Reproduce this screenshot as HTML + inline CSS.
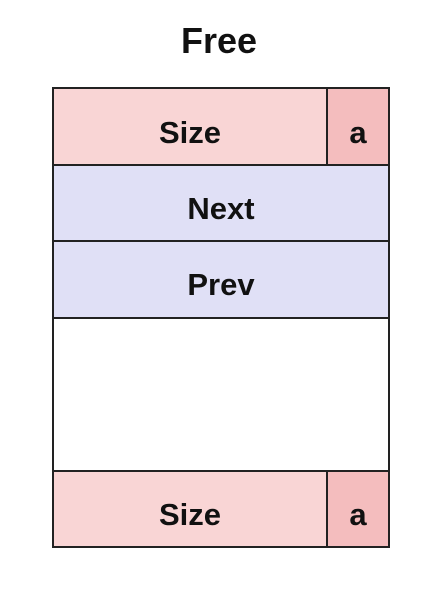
<!DOCTYPE html>
<html><head><meta charset="utf-8"><style>
html,body{margin:0;padding:0;background:#fff;}
svg{display:block;}
text{font-family:"Liberation Sans",Arial,sans-serif;font-weight:bold;fill:#111;}
</style></head><body>
<svg width="434" height="595" viewBox="0 0 434 595" xmlns="http://www.w3.org/2000/svg">
<text x="219" y="53" font-size="36" text-anchor="middle">Free</text>
<g stroke="#222" stroke-width="2">
<rect x="53" y="88" width="274" height="77" fill="#f9d5d5"/>
<rect x="327" y="88" width="62" height="77" fill="#f4bdbe"/>
<rect x="53" y="165" width="336" height="76" fill="#e0e0f6"/>
<rect x="53" y="241" width="336" height="77" fill="#e0e0f6"/>
<rect x="53" y="318" width="336" height="153" fill="#fff"/>
<rect x="53" y="471" width="274" height="76" fill="#f9d5d5"/>
<rect x="327" y="471" width="62" height="76" fill="#f4bdbe"/>
</g>
<g font-size="31" text-anchor="middle">
<text x="190" y="143">Size</text>
<text x="358" y="143">a</text>
<text x="221" y="219">Next</text>
<text x="221" y="295">Prev</text>
<text x="190" y="525">Size</text>
<text x="358" y="525">a</text>
</g>
</svg>
</body></html>
